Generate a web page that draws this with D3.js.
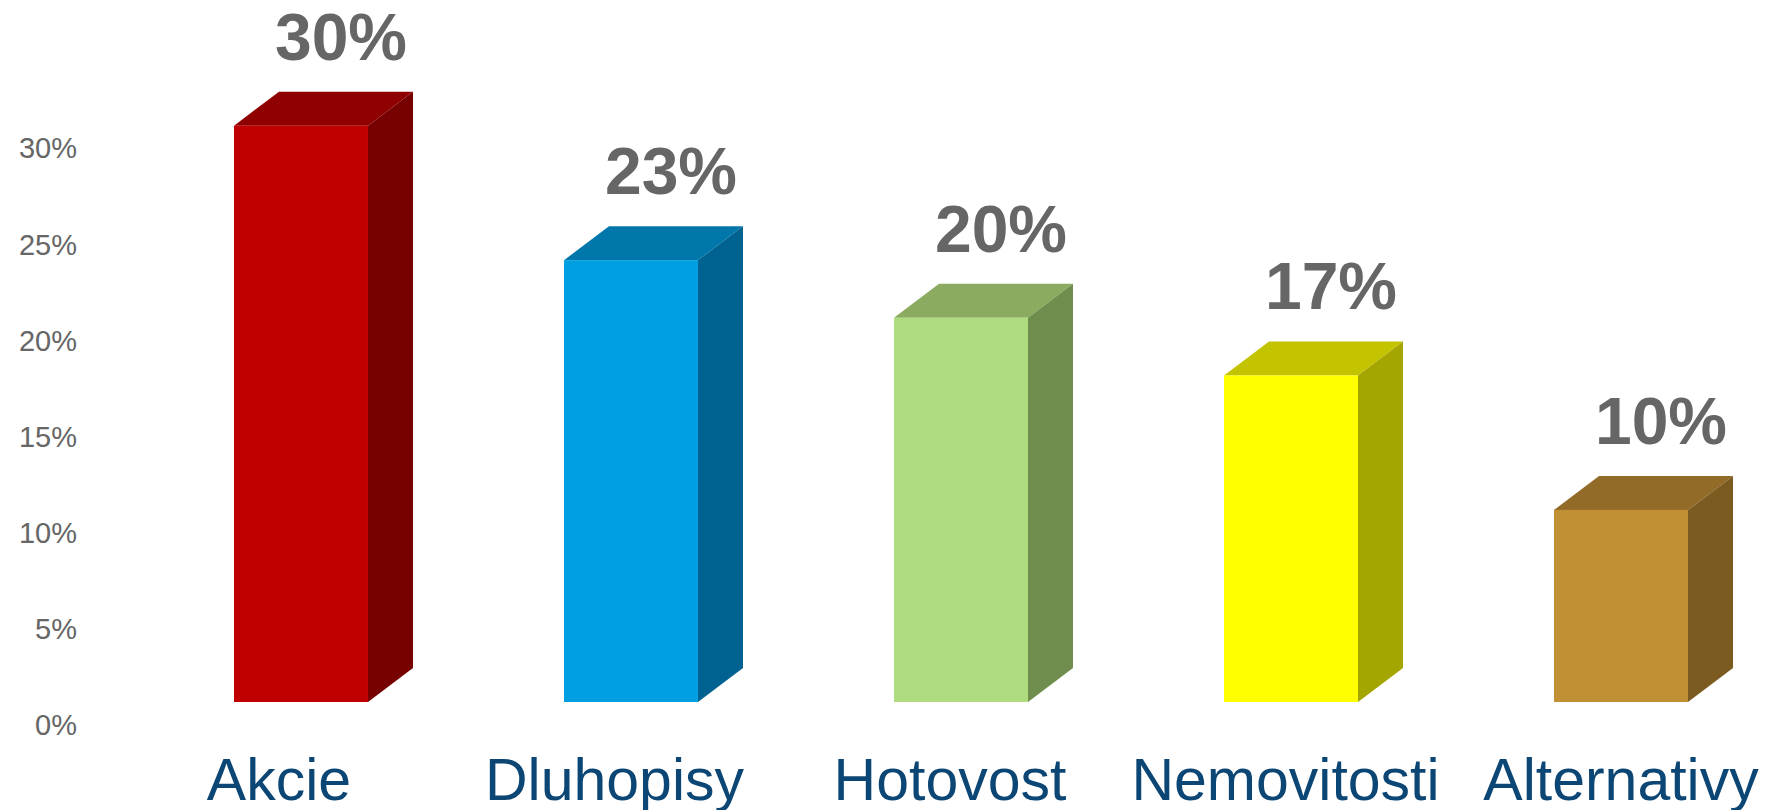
<!DOCTYPE html>
<html>
<head>
<meta charset="utf-8">
<script src="https://cdn.jsdelivr.net/npm/d3@7"></script>
<style>
  html, body { margin: 0; padding: 0; background: #ffffff; }
  svg { display: block; }
</style>
</head>
<body>
<svg id="chart" width="1776" height="810"></svg>
<script>
const categories = ["Akcie", "Dluhopisy", "Hotovost", "Nemovitosti", "Alternativy"];
const values = [30, 23, 20, 17, 10];
const valueLabels = ["30%", "23%", "20%", "17%", "10%"];
const tickValues = [0, 5, 10, 15, 20, 25, 30];
const frontColors = ["#c00000", "#009fe1", "#afdb7f", "#ffff00", "#c29034"];
const topColors   = ["#8f0000", "#0077ab", "#8aab60", "#c3c300", "#936b28"];
const sideColors  = ["#770000", "#006290", "#6f8e4d", "#a5a500", "#7c5b21"];

const svg = d3.select("#chart");

const x = d3.scaleBand()
  .domain(categories)
  .range([234, 1688])
  .paddingInner(0.594)
  .paddingOuter(0);

const y = d3.scaleLinear().domain([0, 30]).range([702, 125.7]);

const depthX = 45, depthY = 34;

// Y axis
const yAxis = d3.axisLeft(y)
  .tickValues(tickValues)
  .tickFormat(d => d + "%")
  .tickSize(0)
  .tickPadding(0);

const gAxis = svg.append("g")
  .attr("transform", "translate(77,23)")
  .call(yAxis);
gAxis.select(".domain").remove();
gAxis.selectAll("text")
  .attr("font-family", "Liberation Sans, Arial, sans-serif")
  .attr("font-size", 29)
  .attr("fill", "#666666");

const data = categories.map((c, i) => ({ c, v: values[i], label: valueLabels[i], i }));

const bars = svg.append("g").selectAll("g.bar").data(data).enter().append("g").attr("class", "bar");

// top face
bars.append("path")
  .attr("d", d => {
    const x0 = x(d.c), x1 = x0 + x.bandwidth(), yt = y(d.v);
    return `M${x0},${yt} L${x0 + depthX},${yt - depthY} L${x1 + depthX},${yt - depthY} L${x1},${yt} Z`;
  })
  .attr("fill", d => topColors[d.i]);

// side face
bars.append("path")
  .attr("d", d => {
    const x1 = x(d.c) + x.bandwidth(), yt = y(d.v), yb = y(0);
    return `M${x1},${yt} L${x1 + depthX},${yt - depthY} L${x1 + depthX},${yb - depthY} L${x1},${yb} Z`;
  })
  .attr("fill", d => sideColors[d.i]);

// front face
bars.append("rect")
  .attr("x", d => x(d.c))
  .attr("y", d => y(d.v))
  .attr("width", x.bandwidth())
  .attr("height", d => y(0) - y(d.v))
  .attr("fill", d => frontColors[d.i]);

// value labels
bars.append("text")
  .attr("x", d => x(d.c) + x.bandwidth() / 2 + 40)
  .attr("y", d => y(d.v) - depthY - 32)
  .attr("text-anchor", "middle")
  .attr("font-family", "Liberation Sans, Arial, sans-serif")
  .attr("font-weight", "bold")
  .attr("font-size", 66)
  .attr("fill", "#666666")
  .text(d => d.label);

// category labels
const n = categories.length;
bars.append("text")
  .attr("x", d => x(d.c) + x.bandwidth() / 2 + (d.i - (n - 1)) * 5.5)
  .attr("y", 800)
  .attr("text-anchor", "middle")
  .attr("font-family", "Liberation Sans, Arial, sans-serif")
  .attr("font-size", 59)
  .attr("fill", "#0c4674")
  .text(d => d.c);
</script>
</body>
</html>
